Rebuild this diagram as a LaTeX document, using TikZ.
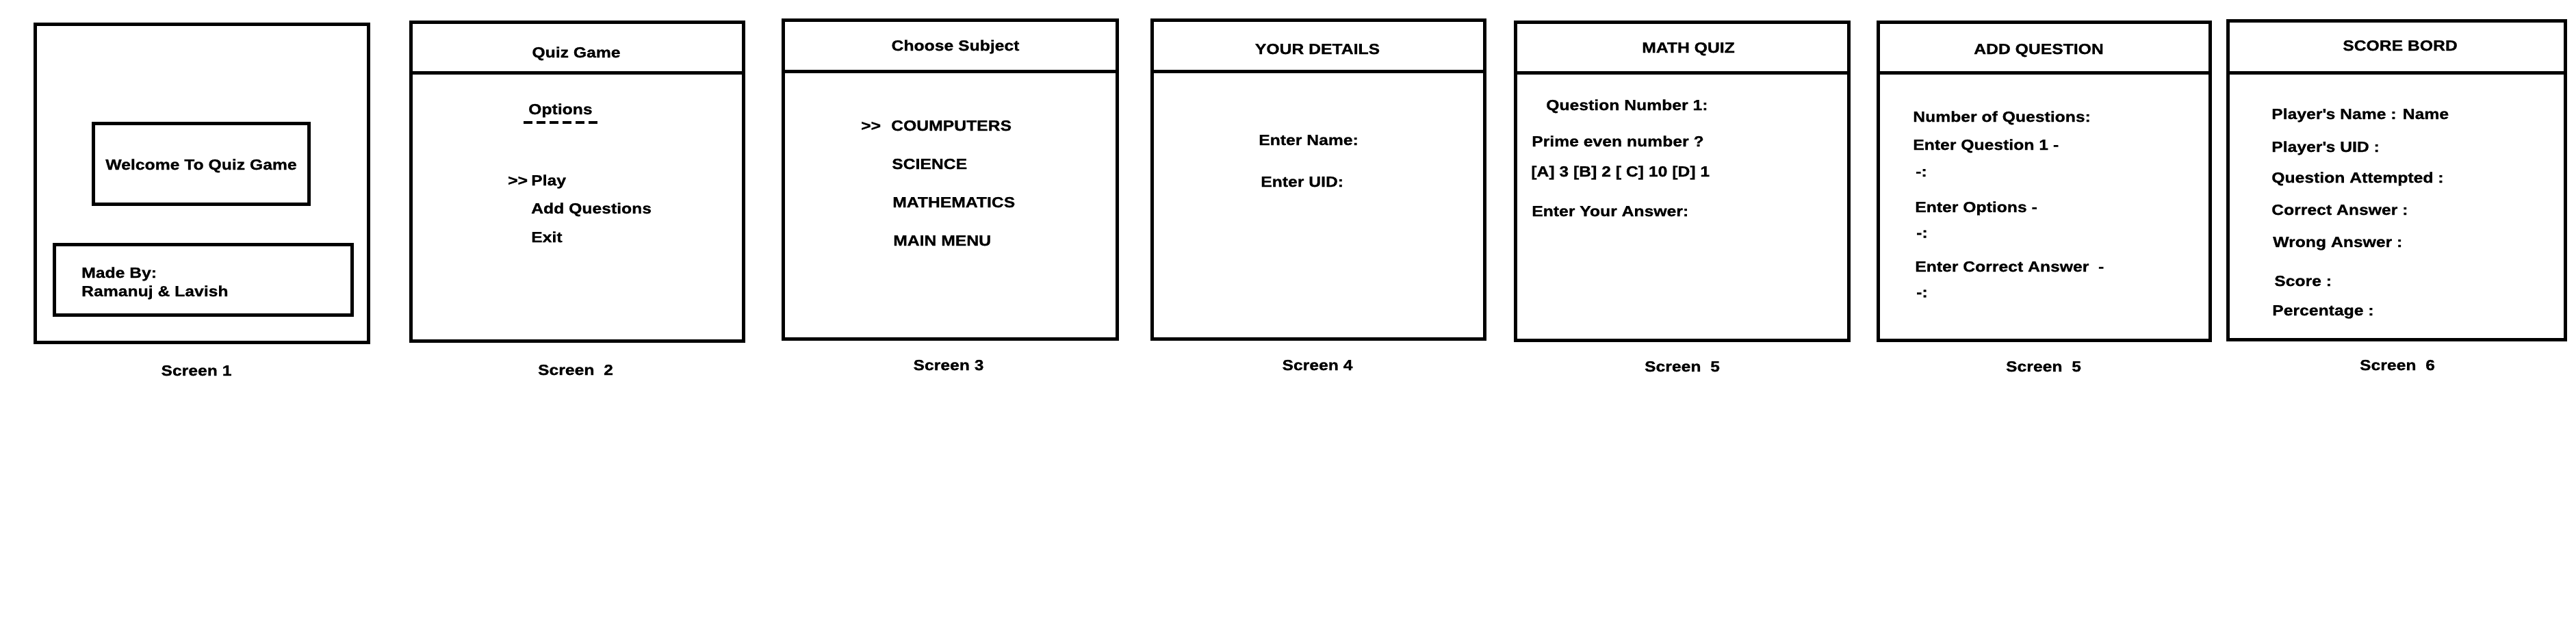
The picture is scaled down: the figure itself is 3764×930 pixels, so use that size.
\documentclass[tikz,border=0pt]{standalone}
\usepackage{fontspec}
\setmainfont{Liberation Sans}[FakeStretch=1.15,FakeBold=1]
\begin{document}
\begin{tikzpicture}[x=1pt,y=-1pt,
  frame/.style={line width=5pt},
  txt/.style={anchor=base west,inner sep=0pt,font=\fontsize{21.5}{26}\selectfont\bfseries},
  ctxt/.style={txt,anchor=base}]
\useasboundingbox[fill=white] (0,0) rectangle (3764,930);

% ---------- Screen 1
\draw[frame] (51,35) rectangle (538.5,500);
\draw[frame] (136.5,180.5) rectangle (451,298);
\draw[frame] (79,357.5) rectangle (514,460);
\node[ctxt] (welcome) at (294,248) {Welcome To Quiz Game};
\node[txt] (madeby) at (119,406) {Made By:};
\node[txt] (names) at (119,433) {Ramanuj \& Lavish};
\node[ctxt] (lab1) at (287,549) {Screen 1};

% ---------- Screen 2
\draw[frame] (600,32) rectangle (1086,498);
\draw[frame] (600,106) -- (1086,106);
\node[ctxt] (title2) at (842,84) {Quiz Game};
\node[txt] (options) at (772,167) {Options};
\coordinate (dashA) at (765,179.4);
\coordinate (dashB) at (874,179.4);
\draw[line width=4pt,dash pattern=on 13pt off 6pt] (dashA) -- (dashB);
\node[txt] (sel2) at (742,271) {{>}{>}};
\node[txt] (play) at (776,271) {Play};
\node[txt] (addq) at (776,312) {Add Questions};
\node[txt] (exit) at (776,354) {Exit};
\node[ctxt] (lab2) at (841,548) {Screen~~2};

% ---------- Screen 3
\draw[frame] (1144,29) rectangle (1632,495);
\draw[frame] (1144,104.7) -- (1632,104.7);
\node[ctxt] (title3) at (1396,74) {Choose Subject};
\node[txt] (sel3) at (1258,191) {{>}{>}};
\node[txt] (comp) at (1302,191) {COUMPUTERS};
\node[txt] (sci) at (1303,247) {SCIENCE};
\node[txt] (math) at (1304,303) {MATHEMATICS};
\node[txt] (menu) at (1305,359) {MAIN MENU};
\node[ctxt] (lab3) at (1386,541) {Screen 3};

% ---------- Screen 4
\draw[frame] (1683,29) rectangle (2169.5,495);
\draw[frame] (1683,104.7) -- (2169.5,104.7);
\node[ctxt] (title4) at (1925,79) {YOUR DETAILS};
\node[txt] (ename) at (1839,212) {Enter Name:};
\node[txt] (euid) at (1842,273) {Enter UID:};
\node[ctxt] (lab4) at (1925,541) {Screen 4};

% ---------- Screen 5 (math quiz)
\draw[frame] (2214,32) rectangle (2701,497);
\draw[frame] (2214,106.6) -- (2701,106.6);
\node[ctxt] (title5) at (2467,77) {MATH QUIZ};
\node[txt] (qnum) at (2259,161) {Question Number 1:};
\node[txt] (prime) at (2238,214) {Prime even number ?};
\node[txt] (opts) at (2237,258) {[A] 3 [B] 2 [ C] 10 [D] 1};
\node[txt] (ans) at (2238,316) {Enter Your Answer:};
\node[ctxt] (lab5) at (2458,543) {Screen~~5};

% ---------- Screen 5 (add question)
\draw[frame] (2744,32) rectangle (3229.5,497);
\draw[frame] (2744,106.6) -- (3229.5,106.6);
\node[ctxt] (title5b) at (2979,79) {ADD QUESTION};
\node[txt] (nq) at (2795,178) {Number of Questions:};
\node[txt] (eq) at (2795,219) {Enter Question 1 -};
\node[txt] (in1) at (2799,258) {-:};
\node[txt] (eo) at (2798,310) {Enter Options -};
\node[txt] (in2) at (2800,347.5) {-:};
\node[txt] (eca) at (2798,397) {Enter Correct Answer~~-};
\node[txt] (in3) at (2800,434.5) {-:};
\node[ctxt] (lab5b) at (2986,543) {Screen~~5};

% ---------- Screen 6
\draw[frame] (3255,30.6) rectangle (3748,496);
\draw[frame] (3255,106.6) -- (3748,106.6);
\node[ctxt] (title6) at (3507,74) {SCORE BORD};
\node[txt] (pname) at (3319,174) {Player{\textquotesingle}s Name : Name};
\node[txt] (puid) at (3319,222) {Player{\textquotesingle}s UID :};
\node[txt] (qatt) at (3319,267) {Question Attempted :};
\node[txt] (corr) at (3319,314) {Correct Answer :};
\node[txt] (wrong) at (3321,361) {Wrong Answer :};
\node[txt] (score) at (3323,418) {Score :};
\node[txt] (perc) at (3320,461) {Percentage :};
\node[ctxt] (lab6) at (3503,541) {Screen~~6};
\end{tikzpicture}
\end{document}
